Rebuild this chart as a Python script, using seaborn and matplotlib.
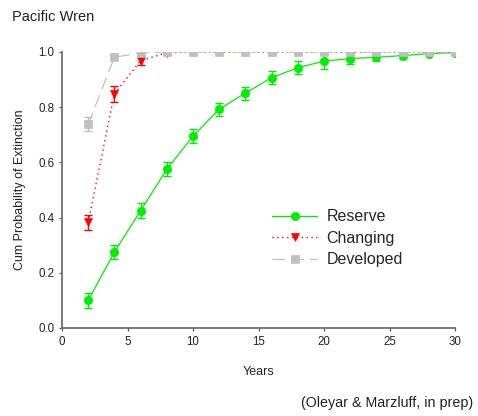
import matplotlib
matplotlib.use("Agg")
import matplotlib.pyplot as plt
import seaborn as sns
import pandas as pd

years = [2, 4, 6, 8, 10, 12, 14, 16, 18, 20, 22, 24, 26, 28, 30]
reserve = [0.10, 0.275, 0.425, 0.575, 0.695, 0.793, 0.851, 0.907, 0.943, 0.967, 0.976, 0.981, 0.987, 0.994, 0.998]
reserve_err = [0.027, 0.025, 0.027, 0.026, 0.025, 0.024, 0.024, 0.024, 0.024, 0.027, 0.018, 0.015, 0.013, 0.005, 0.004]
changing = [0.383, 0.848, 0.969, 0.997, 1.0, 1.0, 1.0, 1.0, 1.0, 1.0, 1.0, 1.0, 1.0, 1.0, 1.0]
changing_err = [0.028, 0.028, 0.016, 0.005, 0.002, 0.002, 0.002, 0.002, 0.002, 0.002, 0.002, 0.002, 0.002, 0.002, 0.002]
developed = [0.738, 0.981, 0.997, 1.0, 1.0, 1.0, 1.0, 1.0, 1.0, 1.0, 1.0, 1.0, 1.0, 1.0, 1.0]
developed_err = [0.026, 0.01, 0.005, 0.002, 0.002, 0.002, 0.002, 0.002, 0.002, 0.002, 0.002, 0.002, 0.002, 0.002, 0.002]

series_names = ["Reserve", "Changing", "Developed"]
x_ticks = [0, 5, 10, 15, 20, 25, 30]
y_ticks = [0.0, 0.2, 0.4, 0.6, 0.8, 1.0]

sns.set_theme(style="ticks")
plt.rcParams['font.family'] = ['Liberation Sans', 'DejaVu Sans']

fig = plt.figure(figsize=(4.78, 4.16), dpi=100)
ax = fig.add_axes([62/478, 88/416, (455-62)/478, (328-52)/416])

styles = [
    dict(color="#00ee00", ls="-", marker="o", ms=6.0, lw=0.9),
    dict(color="#ff0000", ls=(0, (1, 2.5)), marker="v", ms=6.0, lw=1.0),
    dict(color="#c0c0c0", ls=(0, (10, 5)), marker="s", ms=5.5, lw=0.9),
]
data = [(reserve, reserve_err), (changing, changing_err), (developed, developed_err)]

for name, (vals, errs), st in zip(series_names, data, styles):
    df = pd.DataFrame({"Years": years, "p": vals})
    sns.lineplot(data=df, x="Years", y="p", ax=ax, color=st["color"], linestyle=st["ls"],
                 marker=st["marker"], markersize=st["ms"], markeredgecolor=st["color"],
                 markeredgewidth=0.5, linewidth=st["lw"], label=name, errorbar=None)
    ax.errorbar(years, vals, yerr=errs, fmt="none", ecolor=st["color"], elinewidth=1.0,
                capsize=2.8, capthick=1.0)

ax.set_xlim(0, 30)
ax.set_ylim(0, 1.0)
ax.set_xticks(x_ticks)
ax.set_yticks(y_ticks)
ax.set_xticklabels([str(t) for t in x_ticks])
ax.set_yticklabels([f"{t:.1f}" for t in y_ticks])
ax.tick_params(axis="both", labelsize=8.3, length=2.5, width=0.9, color="#555555", pad=3, labelcolor="#222222")
for s in ["top", "right"]:
    ax.spines[s].set_visible(False)
for s in ["left", "bottom"]:
    ax.spines[s].set_color("#707070")
    ax.spines[s].set_linewidth(1.3)

ax.set_xlabel("Years", fontsize=9, color="#222222", labelpad=13)
ax.set_ylabel("Cum Probability of Extinction", fontsize=9, color="#222222", labelpad=9)

leg = ax.legend(loc="upper left", bbox_to_anchor=(266/478, 1 - 203/416), bbox_transform=fig.transFigure,
                frameon=False, fontsize=11.5, handlelength=2.8, labelspacing=0.4, handletextpad=0.6,
                borderaxespad=0)

fig.text(12/478, 1 - 17/416, "Pacific Wren", fontsize=10.5, color="#222222", va="center", ha="left")
fig.text(473/478, 1 - 403/416, "(Oleyar & Marzluff, in prep)", fontsize=10.3, color="#222222", va="center", ha="right")

fig.savefig("out.png", dpi=100)
